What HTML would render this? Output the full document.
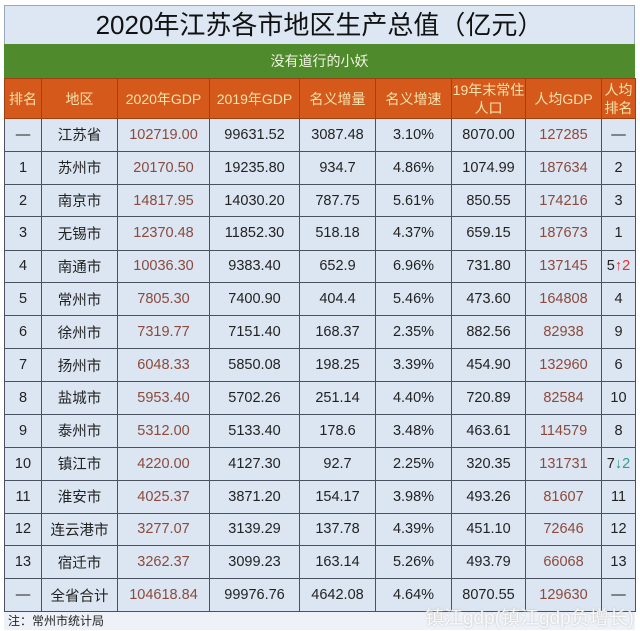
<!DOCTYPE html>
<html><head><meta charset="utf-8"><style>
body{margin:0;width:640px;height:631px;background:#fff;font-family:"Liberation Sans","Noto Sans CJK SC",sans-serif;overflow:hidden;position:relative}
#wrap{position:absolute;left:4px;top:5px;width:631px}
.title{height:38px;background:#dde7f3;border:1px solid #9aa8bc;border-bottom:none;font-size:26px;text-align:center;line-height:38px;color:#111}
.green{height:34px;background:#4f8a2c;color:#f0f4e0;font-size:14px;text-align:center;line-height:34px}
table{border-collapse:collapse;table-layout:fixed;width:631px}
th{background:#d4591a;color:#f7e3ad;font-weight:normal;font-size:14px;height:39px;border:1px solid #a04010;padding:0;line-height:18px}
td{background:#dce6f2;border:1px solid #4a5262;height:31.6px;padding:0;text-align:center;font-size:14.5px;color:#222}
tbody tr:nth-child(even) td{height:32.2px}
td.r{color:#8a4a3c}
.foot{height:18px;background:#eef2f8;font-size:12px;line-height:18px;padding-left:4px;color:#222}
.wm{position:absolute;right:6px;top:603px;font-size:19px;color:rgba(255,255,255,0.85);text-shadow:0 0 2px #bbb}
.up{color:#e03030}.dn{color:#2aa090}
</style></head><body>
<div id="wrap">
<div class="title">2020年江苏各市地区生产总值（亿元）</div>
<div class="green">没有道行的小妖</div>
<table>
<colgroup><col style="width:37px"><col style="width:76px"><col style="width:92px"><col style="width:90px"><col style="width:76px"><col style="width:76px"><col style="width:74px"><col style="width:76px"><col style="width:34px"></colgroup>
<thead><tr><th>排名</th><th>地区</th><th>2020年GDP</th><th>2019年GDP</th><th>名义增量</th><th>名义增速</th><th>19年末常住<br>人口</th><th>人均GDP</th><th>人均<br>排名</th></tr></thead>
<tbody id="tb"></tbody>
</table>
<div class="foot">注：常州市统计局</div>
</div>
<div class="wm">镇江gdp(镇江gdp负增长)</div>
<script>
const ranks=["—","1","2","3","4","5","6","7","8","9","10","11","12","13","—"];
const regions=["江苏省","苏州市","南京市","无锡市","南通市","常州市","徐州市","扬州市","盐城市","泰州市","镇江市","淮安市","连云港市","宿迁市","全省合计"];
const gdp2020=["102719.00","20170.50","14817.95","12370.48","10036.30","7805.30","7319.77","6048.33","5953.40","5312.00","4220.00","4025.37","3277.07","3262.37","104618.84"];
const gdp2019=["99631.52","19235.80","14030.20","11852.30","9383.40","7400.90","7151.40","5850.08","5702.26","5133.40","4127.30","3871.20","3139.29","3099.23","99976.76"];
const incr=["3087.48","934.7","787.75","518.18","652.9","404.4","168.37","198.25","251.14","178.6","92.7","154.17","137.78","163.14","4642.08"];
const rate=["3.10%","4.86%","5.61%","4.37%","6.96%","5.46%","2.35%","3.39%","4.40%","3.48%","2.25%","3.98%","4.39%","5.26%","4.64%"];
const pop=["8070.00","1074.99","850.55","659.15","731.80","473.60","882.56","454.90","720.89","463.61","320.35","493.26","451.10","493.79","8070.55"];
const perCap=["127285","187634","174216","187673","137145","164808","82938","132960","82584","114579","131731","81607","72646","66068","129630"];
const perRank=["—","2","3","1","5<span class='up'>↑2</span>","4","9","6","10","8","7<span class='dn'>↓2</span>","11","12","13","—"];
const tb=document.getElementById('tb');
regions.forEach((r,i)=>{
 const tr=document.createElement('tr');
 
 
 tr.innerHTML=`<td>${ranks[i]}</td><td>${r}</td><td class="r">${gdp2020[i]}</td><td>${gdp2019[i]}</td><td>${incr[i]}</td><td>${rate[i]}</td><td>${pop[i]}</td><td class="r">${perCap[i]}</td><td>${perRank[i]}</td>`;
 tb.appendChild(tr);
});
</script>
</body></html>
